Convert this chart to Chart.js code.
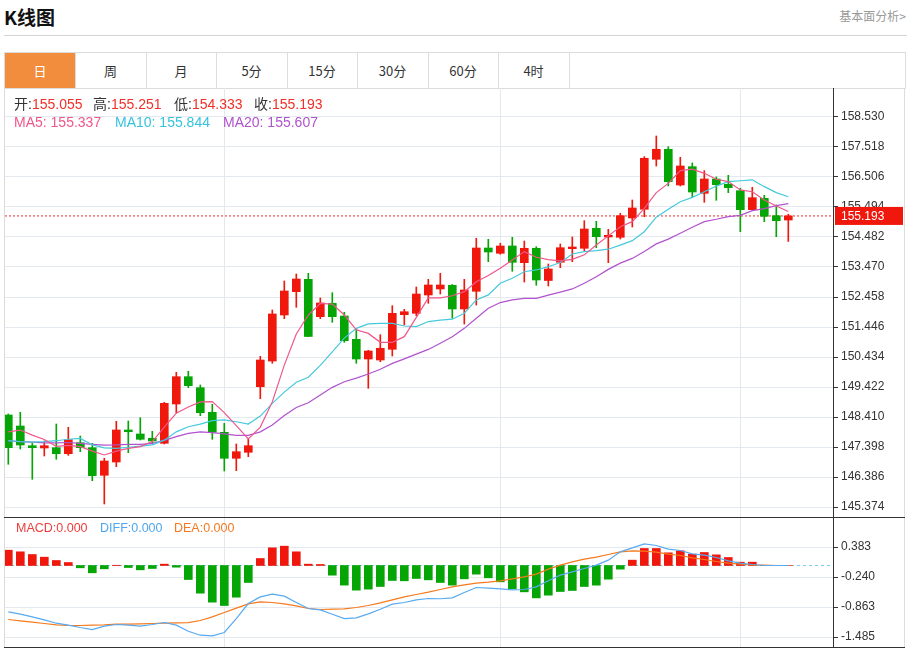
<!DOCTYPE html>
<html>
<head>
<meta charset="utf-8">
<script src="https://cdn.jsdelivr.net/npm/chart.js@4.4.1/dist/chart.umd.min.js"></script>
<style>
  body { margin: 0; background: #fff; font-family: Arial, "Liberation Sans", "Noto Sans CJK SC", sans-serif; }
  #wrap { position: relative; width: 910px; height: 649px; overflow: hidden; }
  .abs { position: absolute; white-space: nowrap; }
  .title { left: 4px; top: 3px; font-size: 19px; font-weight: bold; color: #111; font-family: "Noto Sans CJK SC", sans-serif; }
  .more { right: 4px; top: 7px; font-size: 12px; color: #999; font-family: "Noto Sans CJK SC", sans-serif; }
  .hr { left: 4px; top: 35px; width: 903px; height: 1px; background: #d4d4d4; }
  .tabs { left: 4px; top: 52px; width: 900px; height: 35px; border: 1px solid #dcdcdc; }
  .tab { position: absolute; top: 0; height: 35px; line-height: 35px; width: 70px; text-align: center; font-size: 13px; color: #333;
         border-right: 1px solid #dcdcdc; font-family: "Noto Sans CJK SC", sans-serif; }
  .tab.on { background: #f28d3e; color: #fff; }
  .frame { left: 4px; top: 88px; width: 899px; height: 559px; border-left: 1px solid #dcdcdc; border-right: 1px solid #dcdcdc; }
  .sep { left: 4px; width: 901px; height: 1px; background: #333; }
  canvas { position: absolute; }
  .info { font-size: 14px; line-height: 16px; }
  .minfo { font-size: 12.5px; line-height: 14px; }
  .lbl { color: #333; }
  .val { color: #f0302a; }
</style>
</head>
<body>
<div id="wrap">
  <div class="abs title">K线图</div>
  <div class="abs more">基本面分析&gt;</div>
  <div class="abs hr"></div>
  <div class="abs tabs" id="tabs"></div>
  <div class="abs frame"></div>
  <canvas id="kline" width="898" height="429" style="left:5px;top:88px;width:898px;height:429px"></canvas>
  <div class="abs sep" style="top:517px"></div>
  <canvas id="macd" width="898" height="129" style="left:5px;top:518px;width:898px;height:129px"></canvas>
  <div class="abs sep" style="top:647px"></div>

  <div class="abs info" style="left:14px;top:96px"><span class="lbl">开:</span><span class="val">155.055</span></div>
  <div class="abs info" style="left:93px;top:96px"><span class="lbl">高:</span><span class="val">155.251</span></div>
  <div class="abs info" style="left:174px;top:96px"><span class="lbl">低:</span><span class="val">154.333</span></div>
  <div class="abs info" style="left:254px;top:96px"><span class="lbl">收:</span><span class="val">155.193</span></div>
  <div class="abs info" style="left:14px;top:114px;color:#f0568c">MA5: 155.337</div>
  <div class="abs info" style="left:115px;top:114px;color:#35c3dd">MA10: 155.844</div>
  <div class="abs info" style="left:223px;top:114px;color:#b152cf">MA20: 155.607</div>

  <div class="abs minfo" style="left:16px;top:521px;color:#f03c3c">MACD:0.000</div>
  <div class="abs minfo" style="left:100px;top:521px;color:#4ea6ee">DIFF:0.000</div>
  <div class="abs minfo" style="left:174px;top:521px;color:#f47920">DEA:0.000</div>
</div>

<script>
// 周期按钮
const tabNames = ['日', '周', '月', '5分', '15分', '30分', '60分', '4时'];

// K线数据 (开 高 低 收)
const open = [148.478, 148.107, 147.442, 147.365, 147.375, 147.172, 147.543, 147.375, 146.444, 146.892,
  147.972, 147.837, 147.692, 147.523, 148.849, 149.770, 149.399, 148.569, 147.894, 147.017,
  147.220, 149.432, 150.299, 151.851, 152.637, 153.055, 151.794, 152.246, 151.817, 151.031,
  150.367, 150.333, 150.694, 151.861, 151.908, 152.526, 152.728, 152.853, 152.054, 152.651,
  154.111, 153.932, 154.179, 153.615, 154.101, 153.015, 153.629, 154.088, 154.101, 154.776,
  154.482, 154.472, 155.123, 155.417, 157.103, 157.441, 156.236, 156.854, 155.956, 156.439,
  156.260, 156.044, 155.403, 155.788, 155.201, 155.055];
const high = [148.512, 148.569, 147.523, 147.601, 148.174, 148.063, 147.769, 147.523, 147.017, 148.265,
  148.275, 148.387, 147.928, 148.906, 149.918, 149.952, 149.490, 148.839, 148.198, 147.500,
  147.692, 150.458, 152.020, 152.998, 153.234, 153.258, 152.425, 152.603, 151.942, 151.369,
  150.660, 151.187, 152.165, 152.043, 152.796, 153.055, 153.258, 152.880, 153.055, 154.438,
  154.405, 154.270, 154.472, 154.347, 154.155, 153.571, 154.246, 154.482, 155.032, 155.012,
  154.742, 155.282, 155.730, 157.191, 157.889, 157.528, 157.171, 156.979, 156.719, 156.506,
  156.564, 156.125, 156.159, 155.889, 155.562, 155.251];
const low = [146.815, 147.331, 146.309, 147.095, 146.984, 147.118, 147.240, 146.262, 145.476, 146.734,
  147.206, 147.634, 147.500, 147.500, 148.555, 149.399, 148.454, 147.658, 146.589, 146.599,
  147.071, 149.028, 150.222, 151.726, 152.111, 151.119, 151.726, 151.605, 150.930, 150.222,
  149.378, 150.276, 150.468, 151.514, 151.827, 152.246, 152.559, 151.740, 151.547, 152.188,
  153.649, 153.900, 153.325, 152.964, 152.853, 152.829, 153.447, 153.649, 154.020, 154.121,
  153.615, 154.415, 154.820, 155.167, 156.877, 156.203, 156.203, 155.808, 155.653, 155.720,
  155.977, 154.661, 155.393, 154.998, 154.492, 154.333];
const close = [147.375, 147.466, 147.375, 147.442, 147.172, 147.645, 147.375, 146.430, 146.926, 147.972,
  147.914, 147.658, 147.601, 148.872, 149.770, 149.466, 148.555, 147.894, 147.017, 147.240,
  147.442, 150.333, 151.885, 152.661, 153.065, 151.126, 152.256, 151.794, 150.984, 150.367,
  150.637, 150.728, 151.908, 151.962, 152.559, 152.863, 152.863, 152.054, 152.694, 154.111,
  153.976, 154.179, 153.629, 154.101, 153.032, 153.403, 154.121, 154.145, 154.752, 154.492,
  154.540, 155.201, 155.461, 157.137, 157.441, 156.348, 156.877, 156.000, 156.439, 156.247,
  156.145, 155.403, 155.808, 155.180, 155.032, 155.193];

// 均线
const ma5 = [147.91, 147.97, 147.80, 147.65, 147.42, 147.45, 147.41, 147.26, 147.13, 147.26,
  147.35, 147.41, 147.58, 148.07, 148.54, 148.75, 148.92, 148.93, 148.56, 148.12,
  147.67, 148.07, 148.92, 150.16, 151.21, 151.85, 152.24, 152.22, 151.85, 151.35,
  151.23, 150.93, 150.93, 151.12, 151.77, 152.43, 152.43, 152.50, 152.64, 152.97,
  153.18, 153.43, 153.71, 153.99, 153.80, 153.72, 153.68, 153.73, 153.88, 154.21,
  154.52, 154.83, 155.00, 155.45, 155.98, 156.29, 156.72, 156.77, 156.63, 156.43,
  156.35, 156.07, 156.01, 155.73, 155.53, 155.34];
const ma10 = [147.61, 147.58, 147.56, 147.58, 147.61, 147.66, 147.69, 147.47, 147.37, 147.35,
  147.39, 147.43, 147.47, 147.63, 147.91, 148.08, 148.17, 148.29, 148.31, 148.25,
  148.17, 148.44, 148.87, 149.25, 149.58, 149.75, 150.15, 150.61, 151.07, 151.40,
  151.55, 151.57, 151.57, 151.48, 151.46, 151.63, 151.68, 151.71, 151.91, 152.36,
  152.53, 152.92, 153.09, 153.31, 153.37, 153.48, 153.62, 153.91, 153.99, 154.02,
  154.07, 154.21, 154.36, 154.66, 155.15, 155.42, 155.67, 155.82, 156.01, 156.20,
  156.35, 156.38, 156.41, 156.18, 155.98, 155.84];
const ma20 = [147.60, 147.58, 147.56, 147.54, 147.54, 147.55, 147.52, 147.49, 147.46, 147.47,
  147.49, 147.49, 147.52, 147.62, 147.75, 147.86, 147.91, 147.88, 147.84, 147.79,
  147.79, 147.91, 148.14, 148.46, 148.73, 148.89, 149.15, 149.41, 149.60, 149.72,
  149.86, 150.02, 150.22, 150.37, 150.53, 150.69, 150.90, 151.12, 151.40, 151.74,
  152.08, 152.27, 152.36, 152.41, 152.41, 152.52, 152.62, 152.73, 152.92, 153.14,
  153.39, 153.60, 153.76, 153.99, 154.25, 154.41, 154.61, 154.81, 155.00, 155.08,
  155.17, 155.21, 155.37, 155.44, 155.54, 155.61];

// MACD 柱 / DIFF / DEA
const macd = [0.318, 0.284, 0.228, 0.173, 0.104, 0.062, -0.048, -0.152, -0.069, 0.005,
  -0.042, -0.090, -0.062, 0.028, -0.035, -0.291, -0.575, -0.761, -0.831, -0.658,
  -0.353, 0.145, 0.367, 0.401, 0.284, 0.028, 0.021, -0.201, -0.408, -0.512,
  -0.491, -0.436, -0.311, -0.318, -0.270, -0.298, -0.353, -0.408, -0.277, -0.180,
  -0.256, -0.339, -0.484, -0.547, -0.672, -0.616, -0.540, -0.519, -0.436, -0.408,
  -0.284, -0.076, 0.111, 0.353, 0.353, 0.263, 0.305, 0.235, 0.270, 0.221,
  0.166, 0.069, 0.069, 0.000, 0.000, 0.000];
const diff = [-0.962, -1.011, -1.066, -1.128, -1.198, -1.239, -1.287, -1.329, -1.260, -1.225,
  -1.239, -1.260, -1.225, -1.184, -1.239, -1.364, -1.447, -1.461, -1.391, -1.101,
  -0.789, -0.651, -0.595, -0.637, -0.768, -0.893, -0.921, -1.011, -1.101, -1.087,
  -1.004, -0.907, -0.803, -0.768, -0.713, -0.685, -0.690, -0.671, -0.561, -0.457,
  -0.471, -0.485, -0.505, -0.498, -0.443, -0.318, -0.201, -0.132, -0.062, 0.007,
  0.111, 0.284, 0.367, 0.450, 0.415, 0.339, 0.311, 0.242, 0.215, 0.166,
  0.097, 0.048, 0.021, 0.000, 0.000, 0.000];
const dea = [-1.121, -1.149, -1.177, -1.204, -1.232, -1.246, -1.246, -1.239, -1.232, -1.218,
  -1.218, -1.211, -1.204, -1.198, -1.191, -1.184, -1.142, -1.066, -0.976, -0.886,
  -0.796, -0.754, -0.768, -0.796, -0.838, -0.893, -0.914, -0.907, -0.900, -0.872,
  -0.831, -0.775, -0.713, -0.651, -0.602, -0.554, -0.498, -0.443, -0.401, -0.367,
  -0.346, -0.318, -0.277, -0.235, -0.180, -0.076, 0.007, 0.076, 0.132, 0.173,
  0.228, 0.284, 0.305, 0.298, 0.277, 0.235, 0.208, 0.159, 0.125, 0.083,
  0.048, 0.028, 0.014, 0.007, 0.000, 0.000];

// 坐标轴刻度
const priceTicks = [145.374, 146.386, 147.398, 148.410, 149.422, 150.434, 151.446,
  152.458, 153.470, 154.482, 155.494, 156.506, 157.518, 158.530];
const macdTicks = [0.383, -0.240, -0.863, -1.485];
const monthStarts = [18, 41, 61];

const RED = '#f0170c', GREEN = '#05a505';
const GRID = '#e3e9ef';

const tabs = document.getElementById('tabs');
tabNames.forEach((t, i) => {
  const d = document.createElement('div');
  d.className = 'tab' + (i === 0 ? ' on' : '');
  d.style.left = (i * 70.5) + 'px';
  d.textContent = t;
  tabs.appendChild(d);
});

const idx = open.map((_, i) => i);
const candleColor = idx.map(i => close[i] >= open[i] ? RED : GREEN);
const lastClose = close[close.length - 1];

// 去掉刻度文字带来的上下留白, 让绘图区铺满画布
const noPad = s => { s.paddingTop = 0; s.paddingBottom = 0; s.paddingLeft = 0; s.paddingRight = 0; };

const xScale = {
  type: 'linear', min: -0.275, max: 68.725, offset: false,
  afterBuildTicks: s => { s.ticks = monthStarts.map(v => ({ value: v })); },
  ticks: { display: false },
  grid: { color: GRID, drawTicks: false, offset: false },
  border: { display: false },
  afterFit: s => { s.height = 0; noPad(s); }
};

function yScale(min, max, ticks) {
  return {
    position: 'right', min, max,
    afterBuildTicks: s => { s.ticks = ticks.map(v => ({ value: v })); },
    ticks: { callback: v => v.toFixed(3), color: '#333', font: { size: 12, family: 'Arial' }, padding: 3, autoSkip: false },
    grid: { color: GRID, tickColor: '#333', tickLength: 5 },
    border: { color: '#333' },
    afterFit: s => { s.width = 70; noPad(s); }
  };
}

const lastPrice = {
  id: 'lastPrice',
  beforeDatasetsDraw(chart) {
    const { ctx, chartArea } = chart;
    const y = chart.scales.y.getPixelForValue(lastClose);
    ctx.save();
    ctx.strokeStyle = 'rgba(240,70,70,0.75)';
    ctx.lineWidth = 1.5;
    ctx.setLineDash([2, 2]);
    ctx.beginPath(); ctx.moveTo(chartArea.left, y); ctx.lineTo(chartArea.right, y); ctx.stroke();
    ctx.restore();
  },
  afterDraw(chart) {
    const { ctx, chartArea } = chart;
    const y = chart.scales.y.getPixelForValue(lastClose);
    ctx.save();
    ctx.fillStyle = RED;
    ctx.fillRect(chartArea.right + 2, y - 9, chart.width - chartArea.right - 2, 18);
    ctx.fillStyle = '#fff';
    ctx.font = '12px Arial';
    ctx.textBaseline = 'middle';
    ctx.fillText(lastClose.toFixed(3), chartArea.right + 8, y + 0.5);
    ctx.restore();
  }
};

const zeroLine = {
  id: 'zeroLine',
  beforeDatasetsDraw(chart) {
    const { ctx, chartArea } = chart;
    const y = chart.scales.y.getPixelForValue(0);
    ctx.save();
    ctx.strokeStyle = '#7ccfe8';
    ctx.lineWidth = 1;
    ctx.setLineDash([3, 3]);
    ctx.beginPath(); ctx.moveTo(chartArea.left, y); ctx.lineTo(chartArea.right, y); ctx.stroke();
    ctx.restore();
  }
};

const lineSet = (label, arr, color) => ({
  type: 'line', label, data: idx.map(i => ({ x: i, y: arr[i] })),
  borderColor: color, borderWidth: 1.2, pointRadius: 0, tension: 0, order: 0
});

new Chart(document.getElementById('kline'), {
  type: 'bar',
  data: {
    datasets: [
      lineSet('MA5', ma5, '#f0568c'),
      lineSet('MA10', ma10, '#45c9dc'),
      lineSet('MA20', ma20, '#b152cf'),
      {
        label: '影线', data: idx.map(i => ({ x: i, y: [low[i], high[i]] })),
        backgroundColor: candleColor, barThickness: 1, grouped: false, order: 2
      },
      {
        label: '实体', data: idx.map(i => ({ x: i, y: [open[i], close[i]] })),
        backgroundColor: candleColor, barThickness: 8, minBarLength: 1.5, grouped: false, order: 1
      }
    ]
  },
  options: {
    responsive: false, animation: false,
    layout: { padding: 0 },
    plugins: { legend: { display: false }, tooltip: { enabled: false } },
    scales: { x: xScale, y: yScale(145.037, 159.508, priceTicks) }
  },
  plugins: [lastPrice]
});

new Chart(document.getElementById('macd'), {
  type: 'bar',
  data: {
    datasets: [
      lineSet('DIFF', diff, '#58aaf0'),
      lineSet('DEA', dea, '#f57a1e'),
      {
        label: 'MACD', data: idx.map(i => ({ x: i, y: macd[i] })),
        backgroundColor: macd.map(v => v >= 0 ? RED : GREEN), barThickness: 8, grouped: false, order: 1
      }
    ]
  },
  options: {
    responsive: false, animation: false,
    layout: { padding: 0 },
    plugins: { legend: { display: false }, tooltip: { enabled: false } },
    scales: { x: xScale, y: yScale(-1.692, 0.986, macdTicks) }
  },
  plugins: [zeroLine]
});
</script>
</body>
</html>
